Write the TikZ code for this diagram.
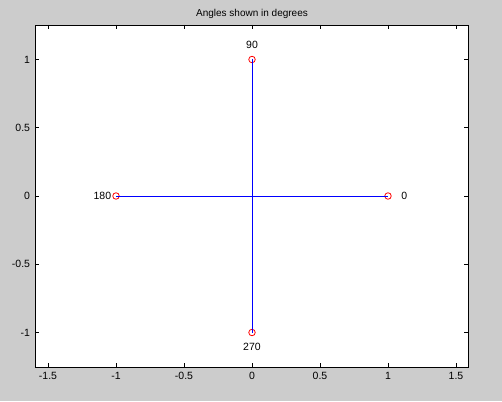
\documentclass[tikz,border=0pt]{standalone}
\usepackage{fontspec}
\setmainfont{Liberation Sans}
\usetikzlibrary{positioning}
\definecolor{figgray}{RGB}{204,204,204}
\definecolor{lineblue}{RGB}{0,0,255}
\tikzset{
    ringmark/.style={circle, draw=red, line width=.8pt, inner sep=0pt, minimum size=6.5pt},
    ticklab/.style={font=\fontsize{10.5}{10.5}\selectfont, inner sep=1pt},
    anglab/.style={font=\fontsize{10.5}{10.5}\selectfont}
}
\begin{document}
\begin{tikzpicture}[x=136pt, y=136.5pt, line width=.8pt]
    % figure and axes
    \fill[figgray](-252pt, -205pt)rectangle(250pt, 196pt);
    \useasboundingbox(-252pt, -205pt)rectangle(250pt, 196pt);
    \fill[white](-1.592, -1.253)rectangle(1.588, 1.253);
    \foreach \x/\lab in {-1.5/-1.5, -1/-1, -0.5/-0.5, 0/0, 0.5/0.5, 1/1, 1.5/1.5}{
        \draw(\x, -1.253)--++(0, 4pt);
        \draw(\x, 1.253)--++(0, -4pt);
        \node[ticklab, below=3.5pt] at (\x, -1.253) {\lab};
    }
    \foreach \y/\lab in {-1/-1, -0.5/-0.5, 0/0, 0.5/0.5, 1/1}{
        \draw(-1.592, \y)--++(4pt, 0);
        \draw(1.588, \y)--++(-4pt, 0);
        \node[ticklab, left=4pt] at (-1.592, \y) {\lab};
    }
    \draw(-1.592, -1.253)rectangle(1.588, 1.253);
    \node[font=\fontsize{10}{10}\selectfont] (title) at (0, 1.333) {Angles shown in degrees};

    % points
    \node[ringmark] (p0) at (1, 0) {};
    \node[ringmark] (p90) at (0, 1) {};
    \node[ringmark] (p180) at (-1, 0) {};
    \node[ringmark] (p270) at (0, -1) {};
    \draw[lineblue](p180.center)--(p0.center);
    \draw[lineblue](p270.center)--(p90.center);
    \node[anglab] at (1.12, 0) {0};
    \node[anglab] at (0, 1.106) {90};
    \node[anglab] at (-1.1, 0) {180};
    \node[anglab] at (0, -1.106) {270};
\end{tikzpicture}
\end{document}
